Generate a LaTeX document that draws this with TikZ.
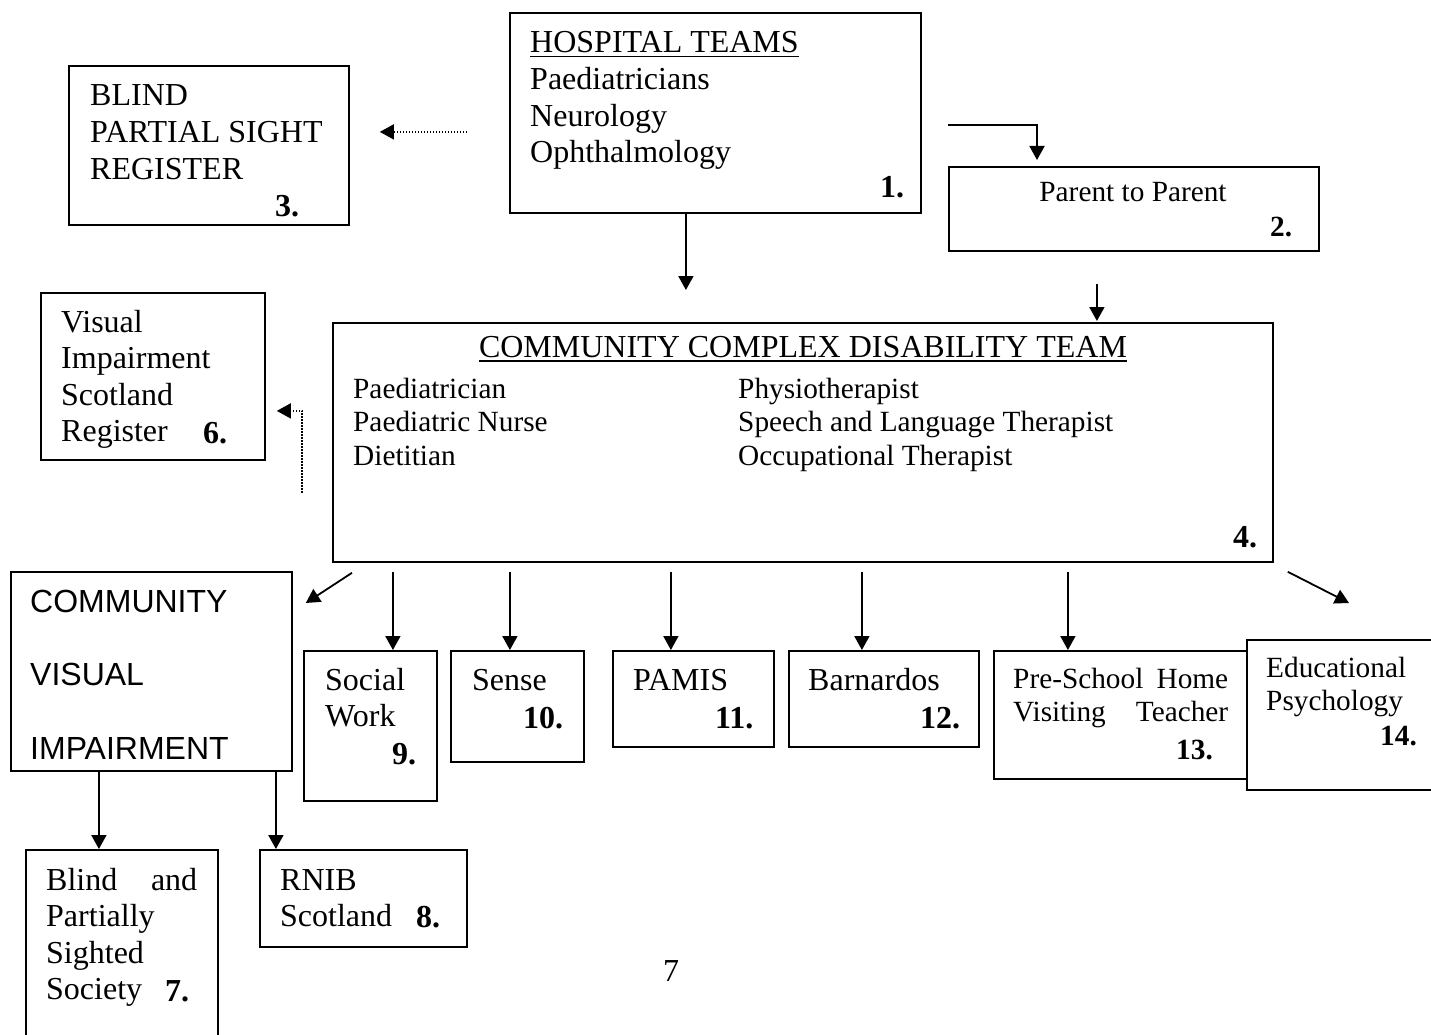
\documentclass[tikz,border=0pt]{standalone}
\usepackage{fontspec}
\setmainfont{Liberation Serif}
\setsansfont{Liberation Sans}
\usetikzlibrary{arrows.meta,calc}
\newcommand{\titleline}[1]{\setbox0\hbox{#1}\rlap{\rule[-4.5pt]{\wd0}{1.6pt}}\box0}
\tikzset{
  >={Triangle[length=14pt,width=15pt]},
  box/.style={draw,line width=1.8pt,anchor=north west,inner sep=0pt},
  % multi-line texts: placed by the baseline of their last line
  txt/.style={font=\fontsize{32}{36.6}\selectfont,anchor=base west,align=left,inner sep=0pt},
  small txt/.style={font=\fontsize{29.3}{33.8}\selectfont,anchor=base west,align=left,inner sep=0pt},
  num/.style={txt,font=\fontsize{32}{36.6}\selectfont\bfseries},
  small num/.style={small txt,font=\fontsize{29.3}{33.8}\selectfont\bfseries},
  flow/.style={->,line width=1.8pt},
  dots/.style={->,line width=1.5pt,dash pattern=on 1.5pt off 1.5pt},
}

\begin{document}
\begin{tikzpicture}[x=1pt,y=-1pt]
  \useasboundingbox (0,0) rectangle (1431,1035);
  % boxes
  \node[box,minimum width=411pt,minimum height=200pt] (hosp) at (509,12) {};
  \node[box,minimum width=280pt,minimum height=159pt] (blindreg) at (68,65) {};
  \node[box,minimum width=370pt,minimum height=84pt] (parent) at (948,166) {};
  \node[box,minimum width=224pt,minimum height=167pt] (visreg) at (40,292) {};
  \node[box,minimum width=940pt,minimum height=239pt] (cdt) at (332,322) {};
  \node[box,minimum width=281pt,minimum height=199pt] (cvi) at (10,571) {};
  \foreach \n/\x/\w/\h in {social/303/133/150,sense/450/133/111,pamis/612/161/96,barn/788/190/96,presch/993/262/128}
    \node[box,minimum width=\w pt,minimum height=\h pt] (\n) at (\x,650) {};
  \node[box,fill=white,minimum width=200pt,minimum height=150pt] (edpsy) at (1246,639) {};
  \node[box,minimum width=192pt,minimum height=200pt] (bps) at (25,849) {};
  \node[box,minimum width=207pt,minimum height=97pt] (rnib) at (259,849) {};
  % texts
  \node[txt] (hosp text) at (530,162.8) {\titleline{HOSPITAL TEAMS}\\Paediatricians\\Neurology\\Ophthalmology};
  \node[num] (n1) at (880,197) {1.};
  \node[txt] (blindreg text) at (90,179.2) {BLIND\\PARTIAL SIGHT\\REGISTER};
  \node[num] (n3) at (275,216) {3.};
  \node[small txt,anchor=base] (parent text) at (1133,201) {Parent to Parent};
  \node[small num] (n2) at (1270,236) {2.};
  \node[txt] (visreg text) at (61,441.8) {Visual\\Impairment\\Scotland\\Register};
  \node[num] (n6) at (203,443) {6.};
  \node[txt,anchor=base] (cdt title) at (803,357) {\titleline{COMMUNITY COMPLEX DISABILITY TEAM}};
  \node[small txt] (cdt left) at (353,465.6) {Paediatrician\\Paediatric Nurse\\Dietitian};
  \node[small txt] (cdt right) at (738,465.6) {Physiotherapist\\Speech and Language Therapist\\Occupational Therapist};
  \node[num] (n4) at (1233,547) {4.};
  \node[txt,font=\fontsize{32}{73.5}\selectfont\sffamily] (cvi text) at (30,759) {COMMUNITY\\VISUAL\\IMPAIRMENT};
  \node[txt] (social text) at (325,726.6) {Social\\Work};
  \node[num] (n9) at (392,764) {9.};
  \node[txt] (sense text) at (472,690) {Sense};
  \node[num] (n10) at (523,728) {10.};
  \node[txt] (pamis text) at (633,690) {PAMIS};
  \node[num] (n11) at (715,728) {11.};
  \node[txt] (barn text) at (808,690) {Barnardos};
  \node[num] (n12) at (920,728) {12.};
  \node[small txt] (presch text) at (1013,721.8) {\makebox[215pt][s]{Pre-School Home}\\\makebox[215pt][s]{Visiting Teacher}};
  \node[small num] (n13) at (1176,759) {13.};
  \node[small txt] (edpsy text) at (1266,710.8) {Educational\\Psychology};
  \node[small num] (n14) at (1380,745) {14.};
  \node[txt] (bps text) at (46,999.8) {\makebox[151pt][s]{Blind and}\\Partially\\Sighted\\Society};
  \node[num] (n7) at (165,1001) {7.};
  \node[txt] (rnib text) at (280,926.6) {RNIB\\Scotland};
  \node[num] (n8) at (416,927) {8.};
  \node[txt] (page) at (663,981) {7};
  % connectors
  \draw[dots] ([xshift=-42pt,yshift=-19pt]hosp.west) -- ([xshift=30pt,yshift=13.5pt]blindreg.east);
  \draw[flow] ([xshift=26pt,yshift=-12pt]hosp.east) -| ([xshift=89pt,yshift=6pt]parent.north west);
  \draw[flow,shorten >=32pt] ([xshift=-117pt]cdt.north |- hosp.south) -- ([xshift=-117pt]cdt.north);
  \draw[flow,shorten <=32pt,shorten >=1pt] ([xshift=294pt]cdt.north |- parent.south) -- ([xshift=294pt]cdt.north);
  \draw[dots] ([xshift=-30pt,yshift=-50.5pt]cdt.west) |- ([xshift=11pt,yshift=-34.5pt]visreg.east);
  \draw[flow] ([xshift=20pt,yshift=-10pt]cdt.south west) -- ([xshift=13pt,yshift=-32pt]cvi.north east);
  \foreach \t/\dx in {social/22.5,sense/-7.5,pamis/-22.5,barn/-22,presch/-57}
    \draw[flow,shorten <=9pt] ([xshift=\dx pt]\t.north |- cdt.south) -- ([xshift=\dx pt]\t.north);
  \draw[flow] ([xshift=14pt,yshift=-9pt]cdt.south east) -- ([xshift=103pt,yshift=36pt]edpsy.north west);
  \foreach \t/\dx in {bps/-23,rnib/-87.5}
    \draw[flow] ([xshift=\dx pt]\t.north |- cvi.south) -- ([xshift=\dx pt]\t.north);
\end{tikzpicture}
\end{document}
